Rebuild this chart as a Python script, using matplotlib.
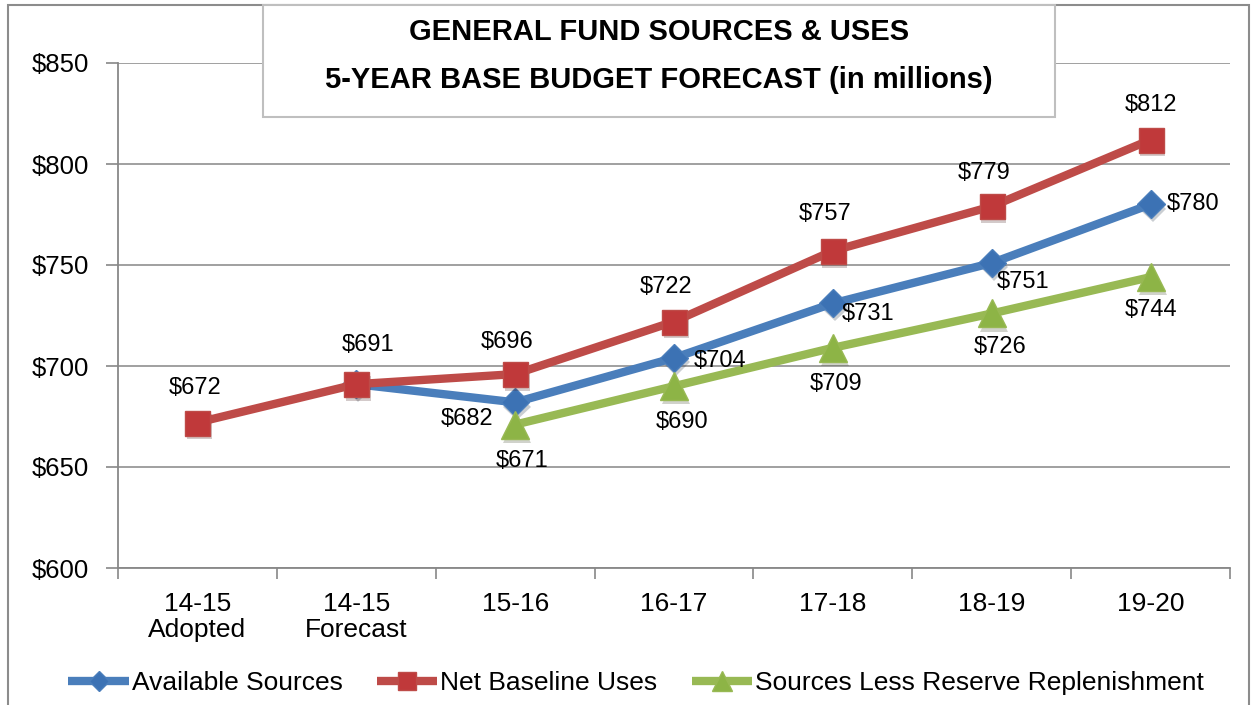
import numpy as np
import matplotlib
matplotlib.use('Agg')
import matplotlib.pyplot as plt
from matplotlib.patches import Rectangle
import matplotlib.patheffects as pe

plt.rcParams['font.family'] = ['Liberation Sans', 'DejaVu Sans']

categories = ["14-15\nAdopted", "14-15\nForecast", "15-16", "16-17", "17-18", "18-19", "19-20"]
available_sources = [np.nan, 691, 682, 704, 731, 751, 780]
net_baseline_uses = [672, 691, 696, 722, 757, 779, 812]
sources_less_reserve = [np.nan, np.nan, 671, 690, 709, 726, 744]
y_ticks = [600, 650, 700, 750, 800, 850]

# label offsets in pixels (dx, dy), per point
blue_offsets = [None, None, (-48, -17), (46, -3), (35, -11), (31, -19), (42, 0)]
red_offsets = [(-2, 35), (12, 39), (-8, 32), (-8, 35), (-8, 37), (-8, 33), (0, 35)]
green_offsets = [None, None, (7, -36), (8, -36), (3, -36), (8, -34), (0, -33)]

BLUE = '#4A7EBB'
RED = '#BE4B48'
GREEN = '#98B954'

fig = plt.figure(figsize=(12.52, 7.05), dpi=100)
ax = fig.add_axes([118 / 1252, 1 - 568 / 705, (1230 - 118) / 1252, (568 - 63) / 705])

x = np.arange(len(categories))
shadow = [pe.SimplePatchShadow(offset=(1.5, -3), alpha=0.22)]

series = [
    ("Available Sources", available_sources, BLUE, '#3C72B4', 'D', 14, blue_offsets, 3),
    ("Net Baseline Uses", net_baseline_uses, RED, '#C0393A', 's', 18, red_offsets, 5),
    ("Sources Less Reserve Replenishment", sources_less_reserve, GREEN, '#8DB446', '^', 20, green_offsets, 3),
]

handles = []
for name, vals, col, mcol, mk, ms, offs, z in series:
    # marker shadows
    ax.plot(x, vals, ls='none', marker=mk, ms=ms, markerfacecolor=mcol, markeredgecolor=col,
            zorder=z - 0.5, path_effects=shadow)
    line, = ax.plot(x, vals, color=col, lw=6, marker=mk, ms=ms,
                    markerfacecolor=mcol, markeredgecolor=col, markeredgewidth=1,
                    label=name, zorder=z, solid_capstyle='butt')
    handles.append(line)

for name, vals, col, mcol, mk, ms, offs, z in series:
    for i, v in enumerate(vals):
        if offs[i] is None or np.isnan(v):
            continue
        ax.annotate(f"${v:.0f}", (x[i], v), xytext=offs[i], textcoords='offset pixels',
                    ha='center', va='center', fontsize=17, color='black', zorder=6)

ax.set_xlim(-0.5, len(categories) - 0.5)
ax.set_ylim(600, 850)
ax.set_yticks(y_ticks)
ax.set_yticklabels([f"${t}" for t in y_ticks], fontsize=18.5)
ax.set_xticks(x)
ax.set_xticklabels(categories, fontsize=19, linespacing=1.15)
ax.set_xticks(np.arange(-0.5, len(categories)), minor=True)
ax.tick_params(axis='x', which='major', length=0, pad=17)
ax.tick_params(axis='x', which='minor', length=8, color='#888888', width=1.2)
ax.tick_params(axis='y', length=9, color='#888888', width=1.2, pad=12)

ax.yaxis.grid(True, color='#999999', lw=1.3)
ax.set_axisbelow(True)
for s in ['top', 'right']:
    ax.spines[s].set_visible(False)
for s in ['left', 'bottom']:
    ax.spines[s].set_color('#888888')
    ax.spines[s].set_linewidth(1.3)

fig.legend(handles=handles, loc='center', bbox_to_anchor=(0.508, 1 - 683 / 705), ncol=3,
           frameon=False, fontsize=19, handlelength=2.3, handletextpad=0.1,
           columnspacing=1.3, markerscale=0.75)

# outer frame
fig.add_artist(Rectangle((8 / 1252, -0.05), (1249 - 8) / 1252, 1.05 - 5 / 705,
                         transform=fig.transFigure, fill=False, edgecolor='#8c8c8c', lw=1.5, zorder=1))
# title box
fig.add_artist(Rectangle((263 / 1252, 1 - 117 / 705), (1055 - 263) / 1252, (117 - 5) / 705,
                         transform=fig.transFigure, facecolor='white', edgecolor='#bfbfbf', lw=1.5, zorder=2))
fig.text(659 / 1252, 1 - 32 / 705, "GENERAL FUND SOURCES & USES", ha='center', va='center',
         fontsize=21, fontweight='bold', zorder=3)
fig.text(659 / 1252, 1 - 80 / 705, "5-YEAR BASE BUDGET FORECAST (in millions)", ha='center', va='center',
         fontsize=21, fontweight='bold', zorder=3)

fig.savefig('out.png', dpi=100)
plt.close(fig)
